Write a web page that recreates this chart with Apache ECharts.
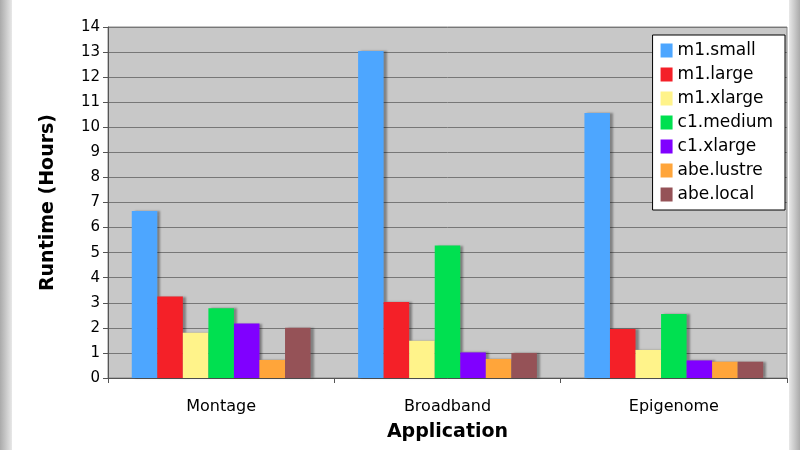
<!DOCTYPE html>
<html>
<head>
<meta charset="utf-8">
<script src="https://cdn.jsdelivr.net/npm/echarts@6/dist/echarts.min.js"></script>
<style>body{margin:0;background:#fff}#main{width:800px;height:450px}</style>
</head>
<body>
<div id="main"></div>
<script>
var categories = ['Montage', 'Broadband', 'Epigenome'];
var seriesNames = ['m1.small', 'm1.large', 'm1.xlarge', 'c1.medium', 'c1.xlarge', 'abe.lustre', 'abe.local'];
var m1Small = [6.66, 13.04, 10.57];
var m1Large = [3.25, 3.03, 1.95];
var m1Xlarge = [1.8, 1.49, 1.12];
var c1Medium = [2.78, 5.28, 2.55];
var c1Xlarge = [2.17, 1.02, 0.7];
var abeLustre = [0.72, 0.76, 0.65];
var abeLocal = [2.0, 1.0, 0.65];
var colors = ['#4da6ff', '#f42028', '#fff38a', '#00e050', '#8000ff', '#ffa53a', '#955257'];

var myChart = echarts.init(document.getElementById('main'));
var allData = [m1Small, m1Large, m1Xlarge, c1Medium, c1Xlarge, abeLustre, abeLocal];
var series = [];
for (var i = 0; i < seriesNames.length; i++) {
    series.push({
        name: seriesNames[i],
        type: 'bar',
        barGap: 0,
        barCategoryGap: '21%',
        itemStyle: {color: colors[i], shadowColor: 'rgba(0,0,0,0.35)', shadowOffsetX: 3, shadowOffsetY: 0, shadowBlur: 2},
        data: allData[i]
    });
}
var option = {
    animation: false,
    textStyle: {fontFamily: 'DejaVu Sans'},
    graphic: [
        {type: 'rect', shape: {x: 0, y: 0, width: 12, height: 450}, style: {fill: new echarts.graphic.LinearGradient(0, 0, 1, 0, [{offset: 0, color: '#aaa'}, {offset: 1, color: '#e8e8e8'}])}},
        {type: 'rect', shape: {x: 789, y: 0, width: 11, height: 450}, style: {fill: new echarts.graphic.LinearGradient(0, 0, 1, 0, [{offset: 0, color: '#e8e8e8'}, {offset: 1, color: '#aaa'}])}}
    ],
    grid: {left: 108, right: 13, top: 27, bottom: 72, show: true, backgroundColor: '#c8c8c8', borderColor: '#888', borderWidth: 1},
    legend: {
        orient: 'vertical', right: 15, top: 35, data: seriesNames,
        backgroundColor: '#fff', borderColor: '#000', borderWidth: 1, padding: [7, 12, 7, 8],
        itemWidth: 12, itemHeight: 14, itemGap: 7, icon: 'rect',
        textStyle: {fontSize: 17, color: '#000', fontFamily: 'DejaVu Sans'}
    },
    xAxis: {
        type: 'category', data: categories,
        name: 'Application', nameLocation: 'middle', nameGap: 45,
        nameTextStyle: {fontSize: 19, fontWeight: 'bold', color: '#000'},
        axisLine: {lineStyle: {color: '#555'}},
        axisTick: {show: true, lineStyle: {color: '#555'}},
        axisLabel: {fontSize: 16, color: '#000', margin: 21}
    },
    yAxis: {
        type: 'value', min: 0, max: 14, interval: 1,
        name: 'Runtime (Hours)', nameLocation: 'middle', nameGap: 50,
        nameTextStyle: {fontSize: 19, fontWeight: 'bold', color: '#000'},
        axisLine: {show: true, lineStyle: {color: '#555'}},
        axisTick: {show: true, lineStyle: {color: '#555'}},
        axisLabel: {fontSize: 15, color: '#000'},
        splitLine: {lineStyle: {color: '#777'}}
    },
    series: series
};
myChart.setOption(option);
</script>
</body>
</html>
